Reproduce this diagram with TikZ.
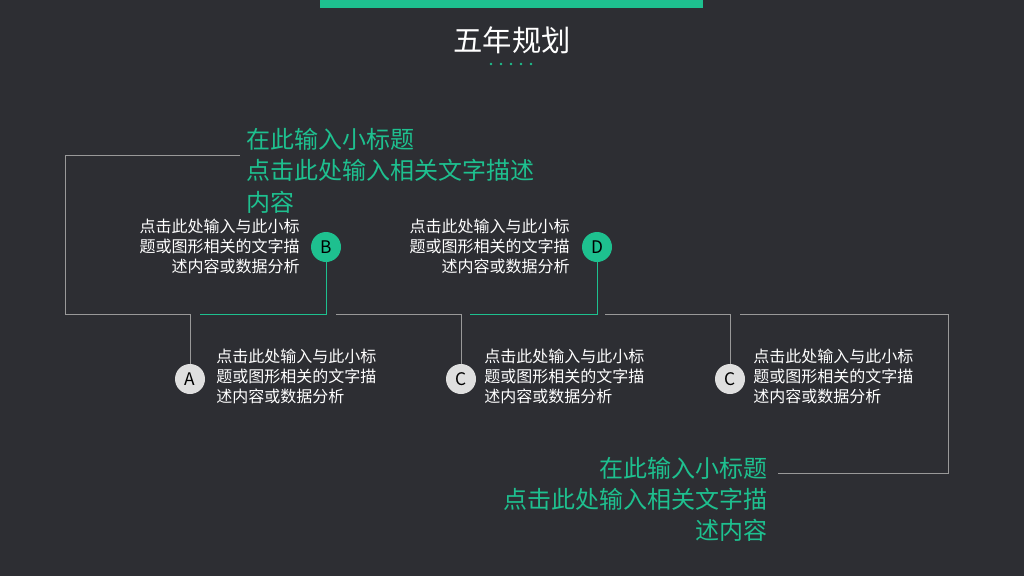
\documentclass[tikz,border=0pt]{standalone}
\usepackage{fontspec}
\setmainfont{Noto Sans CJK SC}
\begin{document}
\begin{tikzpicture}[x=0.75pt,y=-0.75pt,
  gl/.style={draw=gray!80, line width=0.6pt},
  gn/.style={draw=teal!60!green, line width=0.8pt},
  cw/.style={circle, fill=gray!25, minimum size=22.5pt, inner sep=0pt, font=\fontsize{13}{13}\selectfont, text=black},
  cg/.style={circle, fill=green!55!teal!85!white, minimum size=22.5pt, inner sep=0pt, font=\fontsize{13}{13}\selectfont, text=black},
  body/.style={text=white, font=\fontsize{12}{15}\selectfont, inner sep=0pt, align=left},
  bodyr/.style={body, align=right},
  head/.style={text=green!55!teal!85!white, font=\fontsize{18}{23.5}\selectfont, inner sep=0pt}]
\definecolor{bg}{HTML}{2D2E33}
\definecolor{accent}{HTML}{1EC08F}
\fill[bg] (0,0) rectangle (1024,576);
\useasboundingbox (0,0) rectangle (1024,576);
\fill[accent] (320,0) rectangle (703,8);
\node[text=white, font=\fontsize{22}{22}\selectfont] (title) at (512,40) {五年规划};
\foreach \i in {0,1,2,3,4} \fill[accent] (491+\i*10,64) circle (1.3);
\node[cw] (A) at (190,379) {A};
\node[cg,fill=accent] (B) at (326,247) {B};
\node[cw] (C1) at (461,379) {C};
\node[cg,fill=accent] (D) at (597,247) {D};
\node[cw] (C2) at (730,379) {C};
\coordinate (tl) at (240,155);
\coordinate (br) at (778,473);
\draw[gl] (tl) -- (65,155) -- (65,314) -- (190,314) -- (A);
\draw[draw=accent, line width=0.7pt] (200,314) -- (326,314) -- (B);
\draw[gl] (336,314) -- (461,314) -- (C1);
\draw[draw=accent, line width=0.7pt] (470,314) -- (597,314) -- (D);
\draw[gl] (605,314) -- (730,314) -- (C2);
\draw[gl] (740,314) -- (948,314) -- (948,473) -- (br);
\node[head, anchor=north west, align=left, text=accent] (h1) at (246,128) {在此输入小标题\\点击此处输入相关文字描述\\内容};
\node[head, anchor=south east, align=right, text=accent] (h2) at (768,542) {在此输入小标题\\点击此处输入相关文字描\\述内容};
\node[bodyr, anchor=north east] (tb) at (300,219) {点击此处输入与此小标\\题或图形相关的文字描\\述内容或数据分析};
\node[bodyr, anchor=north east] (td) at (570,219) {点击此处输入与此小标\\题或图形相关的文字描\\述内容或数据分析};
\node[body, anchor=north west] (ta) at (216,349) {点击此处输入与此小标\\题或图形相关的文字描\\述内容或数据分析};
\node[body, anchor=north west] (tc1) at (484,349) {点击此处输入与此小标\\题或图形相关的文字描\\述内容或数据分析};
\node[body, anchor=north west] (tc2) at (753,349) {点击此处输入与此小标\\题或图形相关的文字描\\述内容或数据分析};
\end{tikzpicture}
\end{document}
